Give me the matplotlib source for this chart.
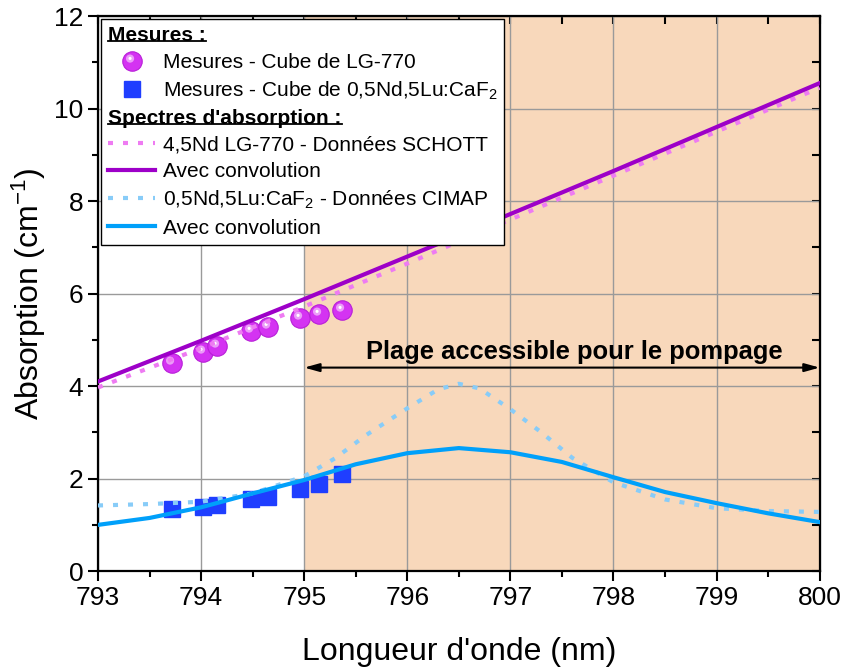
import matplotlib
matplotlib.use('Agg')
import matplotlib.pyplot as plt
import numpy as np
from matplotlib.path import Path
from matplotlib.lines import Line2D
from matplotlib.legend_handler import HandlerTuple
from matplotlib.ticker import MultipleLocator
from matplotlib.transforms import IdentityTransform

plt.rcParams['font.family'] = ['Liberation Sans', 'DejaVu Sans']
plt.rcParams['mathtext.fontset'] = 'custom'
plt.rcParams['mathtext.rm'] = 'Liberation Sans'
plt.rcParams['mathtext.it'] = 'Liberation Sans:italic'
plt.rcParams['mathtext.bf'] = 'Liberation Sans:bold'

# measured points (cubes)
wl_meas = [793.72, 794.02, 794.15, 794.48, 794.65, 794.96, 795.14, 795.37]
abs_lg770 = [4.50, 4.73, 4.86, 5.19, 5.28, 5.47, 5.56, 5.64]
abs_caf2 = [1.34, 1.38, 1.43, 1.56, 1.60, 1.77, 1.88, 2.10]

# LG-770 spectra
wl_lg = [793, 794, 795, 796, 797, 798, 799, 800]
schott = [3.97, 4.82, 5.72, 6.65, 7.60, 8.55, 9.50, 10.45]
lg_conv = [4.10, 4.98, 5.88, 6.80, 7.72, 8.65, 9.60, 10.55]

# CaF2 spectra
wl_cimap = [793, 793.5, 794, 794.5, 795, 795.3, 795.6, 796, 796.3, 796.5,
            796.7, 797, 797.3, 797.6, 798, 798.5, 799, 799.5, 800]
cimap = [1.42, 1.45, 1.50, 1.68, 2.05, 2.44, 2.94, 3.52, 3.93, 4.05,
         3.95, 3.50, 3.00, 2.45, 1.92, 1.55, 1.36, 1.30, 1.28]
wl_conv = [793, 793.5, 794, 794.5, 795, 795.5, 796, 796.5, 797, 797.5,
           798, 798.5, 799, 799.5, 800]
caf_conv = [1.00, 1.15, 1.38, 1.68, 1.97, 2.31, 2.55, 2.66, 2.57, 2.36,
            2.03, 1.71, 1.47, 1.25, 1.06]

pump_range = (795, 800)
arrow_y = 4.4

fig = plt.figure(figsize=(8.45, 6.68), dpi=100)
ax = fig.add_axes([0.116, 0.145, 0.854, 0.831])

ax.axvspan(pump_range[0], pump_range[1], color='#F8D8BB', lw=0, zorder=0)
ax.set_axisbelow(True)
ax.grid(True, which='major', color='#9a9a9a', lw=1)

# sphere-like marker: base circle + highlights (offset paths)
def blob(cx, cy, r):
    c = Path.circle((cx, cy), r)
    verts = np.vstack([c.vertices, [[1, 1], [-1, -1]]])
    codes = np.concatenate([c.codes, [Path.MOVETO, Path.MOVETO]])
    return Path(verts, codes)

hl1 = blob(-0.25, 0.3, 0.42)
hl2 = blob(-0.25, 0.32, 0.16)
ms = 14

ax.plot(wl_meas, abs_caf2, ls='none', marker='s', ms=12, color='#1F3EFF',
        mec='#1F3EFF', zorder=3)
p_base, = ax.plot(wl_meas, abs_lg770, ls='none', marker='o', ms=ms,
                  color='#D433F2', mec='#B81FD8', mew=0.8, zorder=3)
p_h1, = ax.plot(wl_meas, abs_lg770, ls='none', marker=hl1, ms=ms,
                color='#EB9CF8', mew=0, zorder=3.1)
p_h2, = ax.plot(wl_meas, abs_lg770, ls='none', marker=hl2, ms=ms,
                color='#FFFFFF', mew=0, zorder=3.2)

l_schott, = ax.plot(wl_lg, schott, color='#EE7BF2', lw=3, ls=(0, (1.2, 2.4)), zorder=4)
l_lgconv, = ax.plot(wl_lg, lg_conv, color='#9D00C8', lw=3, zorder=4)
l_cimap, = ax.plot(wl_cimap, cimap, color='#88CCF8', lw=3, ls=(0, (1.2, 2.4)), zorder=4)
l_cafconv, = ax.plot(wl_conv, caf_conv, color='#00A0FA', lw=3, zorder=4)

ax.annotate('', xy=(pump_range[1], arrow_y), xytext=(pump_range[0], arrow_y),
            arrowprops=dict(arrowstyle='<|-|>,head_length=0.9,head_width=0.25',
                            color='black', lw=1.5, shrinkA=0, shrinkB=0), zorder=5)
ax.text(797.62, arrow_y + 0.19, 'Plage accessible pour le pompage',
        ha='center', va='baseline', fontsize=18.4, fontweight='bold', zorder=5)

ax.set_xlim(793, 800)
ax.set_ylim(0, 12)
ax.xaxis.set_major_locator(MultipleLocator(1))
ax.xaxis.set_minor_locator(MultipleLocator(0.5))
ax.yaxis.set_major_locator(MultipleLocator(2))
ax.yaxis.set_minor_locator(MultipleLocator(1))
ax.tick_params(which='both', direction='out', width=1.5, labelsize=19)
ax.tick_params(which='major', length=7)
ax.tick_params(which='minor', length=4)
for s in ax.spines.values():
    s.set_linewidth(1.6)

secx = ax.secondary_xaxis('top')
secx.xaxis.set_major_locator(MultipleLocator(1))
secx.xaxis.set_minor_locator(MultipleLocator(0.5))
secx.tick_params(which='both', direction='in', labeltop=False, width=1.5, length=6)
secy = ax.secondary_yaxis('right')
secy.yaxis.set_major_locator(MultipleLocator(2))
secy.yaxis.set_minor_locator(MultipleLocator(1))
secy.tick_params(which='both', direction='in', labelright=False, width=1.5, length=6)

ax.set_xlabel("Longueur d'onde (nm)", fontsize=23)
ax.xaxis.set_label_coords(0.5, -0.118)
ax.set_ylabel('Absorption (cm$^{-1}$)', fontsize=23)
ax.yaxis.set_label_coords(-0.07, 0.5)

blank = Line2D([], [], ls='none')
handles = [blank, (p_base, p_h1, p_h2),
           Line2D([], [], ls='none', marker='s', ms=12, color='#1F3EFF'),
           blank, l_schott, l_lgconv, l_cimap, l_cafconv]
labels = ['Mesures :', 'Mesures - Cube de LG-770',
          'Mesures - Cube de 0,5Nd,5Lu:CaF$_2$',
          "Spectres d'absorption :", '4,5Nd LG-770 - Données SCHOTT',
          'Avec convolution', '0,5Nd,5Lu:CaF$_2$ - Données CIMAP',
          'Avec convolution']
leg = ax.legend(handles, labels, loc='upper left', fontsize=15,
                handler_map={tuple: HandlerTuple(ndivide=1)},
                frameon=True, fancybox=False, framealpha=1, edgecolor='black',
                borderaxespad=0.15, borderpad=0.35, labelspacing=0.36,
                handlelength=2.25, handletextpad=0.35, numpoints=1)
leg.get_frame().set_linewidth(1.0)
leg.set_zorder(10)

header_idx = [0, 3]
rows = leg._legend_handle_box.get_children()[0].get_children()
for i in header_idx:
    row = rows[i]
    row.sep = 0
    row.get_children()[0].width = 0
    leg.get_texts()[i].set_fontweight('bold')

fig.canvas.draw()
renderer = fig.canvas.get_renderer()
for i in header_idx:
    bb = leg.get_texts()[i].get_window_extent(renderer)
    y = bb.y0 + 4
    fig.add_artist(Line2D([bb.x0, bb.x1], [y, y], color='black', lw=1.3,
                          transform=IdentityTransform(), zorder=11))

fig.savefig('out.png', dpi=100)
